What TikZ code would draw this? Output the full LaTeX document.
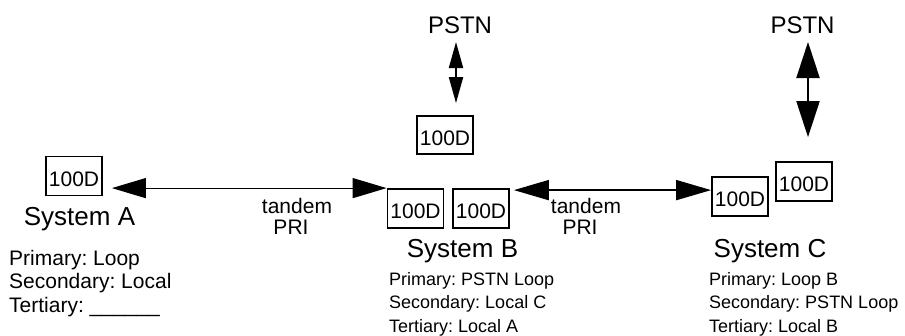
\documentclass[tikz,border=0pt]{standalone}
\usepackage{fontspec}
\setmainfont{Liberation Sans}
\usetikzlibrary{arrows.meta}
\frenchspacing
\tikzset{
  unitbox/.style={draw, line width=1.8pt, minimum width=56pt, minimum height=39pt, inner sep=0pt,
    font=\fontsize{21}{21}\selectfont, text height=20pt, text depth=0pt},
  syslabel/.style={inner sep=0pt, anchor=base, font=\fontsize{26}{26}\selectfont},
  pstnlabel/.style={inner sep=0pt, anchor=base, font=\fontsize{24}{24}\selectfont},
  biglines/.style={inner sep=0pt, anchor=base west, font=\fontsize{21}{21}\selectfont},
  smalllines/.style={inner sep=0pt, anchor=base west, font=\fontsize{18}{18}\selectfont},
  linklabel/.style={inner sep=0pt, anchor=base, font=\fontsize{21}{21}\selectfont},
  hab/.style={line width=1.2pt, {Triangle[length=34pt,width=20pt]}-{Triangle[length=34pt,width=20pt]}},
  hbc/.style={line width=1.8pt, {Triangle[length=35pt,width=20pt]}-{Triangle[length=35pt,width=20pt]}},
  vb/.style={line width=2pt, {Triangle[length=26pt,width=14pt]}-{Triangle[length=26pt,width=14pt]}},
  vc/.style={line width=2pt, {Triangle[length=36pt,width=23pt]}-{Triangle[length=36pt,width=23pt]}},
}
\begin{document}
\begin{tikzpicture}[x=1pt,y=-1pt]
\useasboundingbox (0,0) rectangle (905,335);
% boxes
\node[unitbox] (A)  at (74,176)    {100D};
\node[unitbox] (B1) at (415.5,208.5) {100D};
\node[unitbox] (B2) at (481,208.5) {100D};
\node[unitbox, minimum height=38pt] (BP) at (445,135) {100D};
\node[unitbox] (C1) at (740,196.5) {100D};
\node[unitbox] (C2) at (804,181.5) {100D};
% PSTN labels
\node[pstnlabel] (PB) at (460,33) {PSTN};
\node[pstnlabel] (PC) at (802.5,33) {PSTN};
% system labels
\node[syslabel] (sA) at (79.5,225) {System A};
\node[syslabel] (sB) at (462.5,257) {System B};
\node[syslabel] (sC) at (770,257) {System C};
% A lines
\node[biglines] (a1) at (9,265) {Primary: Loop};
\node[biglines] (a2) at (9,288) {Secondary: Local};
\node[biglines] (a3) at (9,312) {Tertiary: \_\_\_\_\_\_};
% B lines
\node[smalllines] (b1) at (389,285) {Primary: PSTN Loop};
\node[smalllines] (b2) at (389,308.5) {Secondary: Local C};
\node[smalllines] (b3) at (389,332) {Tertiary: Local A};
% C lines
\node[smalllines] (c1) at (709,285) {Primary: Loop B};
\node[smalllines] (c2) at (709,308.5) {Secondary: PSTN Loop};
\node[smalllines] (c3) at (709,332) {Tertiary: Local B};
% link labels
\node[linklabel] (t1) at (297,213) {tandem};
\node[linklabel] (p1) at (291,234) {PRI};
\node[linklabel] (t2) at (586,213) {tandem};
\node[linklabel] (p2) at (580,234) {PRI};
% connectors
\draw[hab] ([xshift=9pt]A.east |- B1.north west) -- (B1.north west);
\draw[hbc] ([shift={(4pt,-2pt)}]B2.north east) coordinate (bcL) -- (bcL -| C1.west);
\draw[vb] ([shift={(-4pt,-9pt)}]PB.base) -- ([shift={(11pt,12pt)}]BP.north);
\draw[vc] ([shift={(5.5pt,-9pt)}]PC.base) -- ([shift={(4pt,24pt)}]C2.north);
\end{tikzpicture}
\end{document}
